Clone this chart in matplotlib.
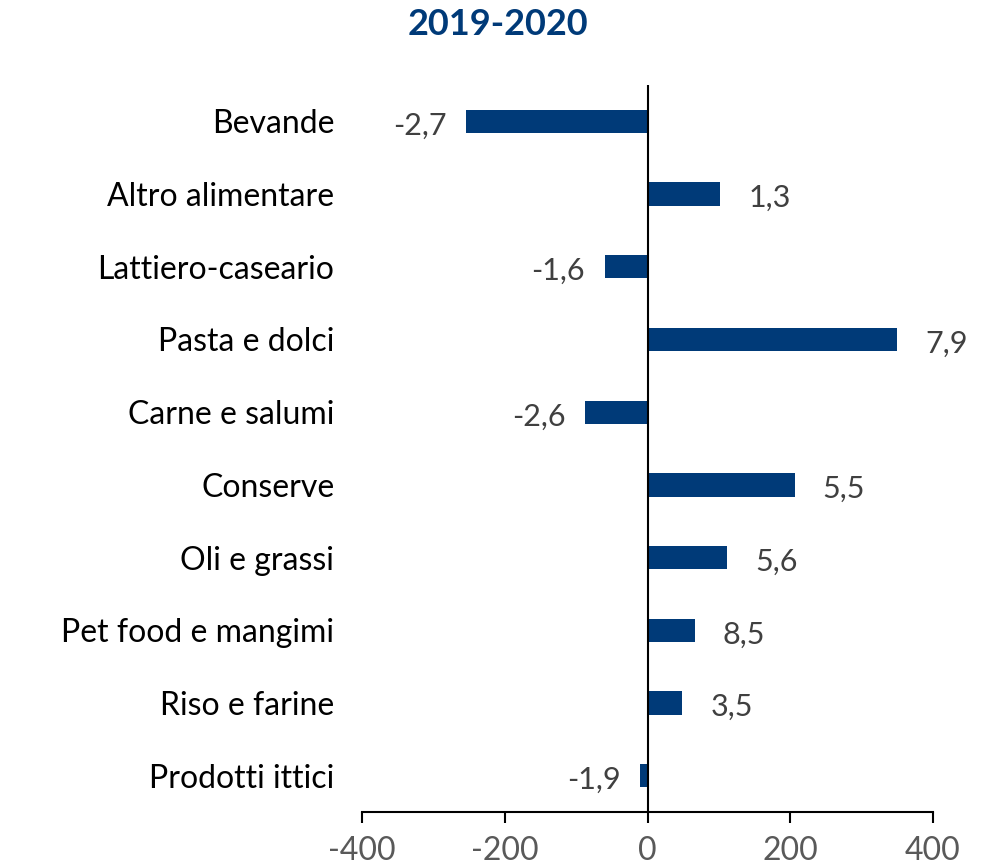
import matplotlib
matplotlib.use("Agg")
import matplotlib.pyplot as plt
import numpy as np

# Data
###############################################################################
categories = ["Bevande", "Altro alimentare", "Lattiero-caseario", "Pasta e dolci",
              "Carne e salumi", "Conserve", "Oli e grassi", "Pet food e mangimi",
              "Riso e farine", "Prodotti ittici"]
# absolute change (bar length) and percentage change (printed next to bar)
changes = [-254, 102, -60, 350, -88, 206, 112, 66, 49, -10]
pct_labels = ["-2,7", "1,3", "-1,6", "7,9", "-2,6", "5,5", "5,6", "8,5", "3,5", "-1,9"]
x_ticks = [-400, -200, 0, 200, 400]

BLUE = "#003a78"

# Plot
###############################################################################
plt.rcParams["font.family"] = ["Lato", "DejaVu Sans"]

fig = plt.figure(figsize=(9.9, 8.68), dpi=100)
ax = fig.add_axes([0.3657, 0.0645, 0.5767, 0.8375])

y = np.arange(len(categories))
ax.barh(y, changes, height=0.32, color=BLUE, zorder=2)

# value labels just outside the bar ends
for yi, val, lab in zip(y, changes, pct_labels):
    if val >= 0:
        ax.annotate(lab, (val, yi), xytext=(20, -3), textcoords="offset points",
                    ha="left", va="center", fontsize=22, color="#404040")
    else:
        ax.annotate(lab, (val, yi), xytext=(-14, -3), textcoords="offset points",
                    ha="right", va="center", fontsize=22, color="#404040")

ax.set_xlim(-400, 400)
ax.set_ylim(len(categories) - 0.5, -0.5)
ax.set_xticks(x_ticks)
ax.set_xticklabels([str(t) for t in x_ticks], fontsize=23, color="#595959")
ax.set_yticks(y)
ax.set_yticklabels(categories, fontsize=23, color="black")
ax.tick_params(axis="y", length=0, pad=20)
ax.tick_params(axis="x", length=8, width=1.5, direction="out", pad=9)

ax.axvline(0, color="black", lw=1.5, zorder=3)
for side in ["top", "right", "left"]:
    ax.spines[side].set_visible(False)
ax.spines["bottom"].set_linewidth(1.5)

fig.text(0.503, 0.972, "2019-2020", ha="center", va="center",
         fontsize=26, fontweight="bold", color=BLUE)

fig.savefig("out.png", dpi=100)
